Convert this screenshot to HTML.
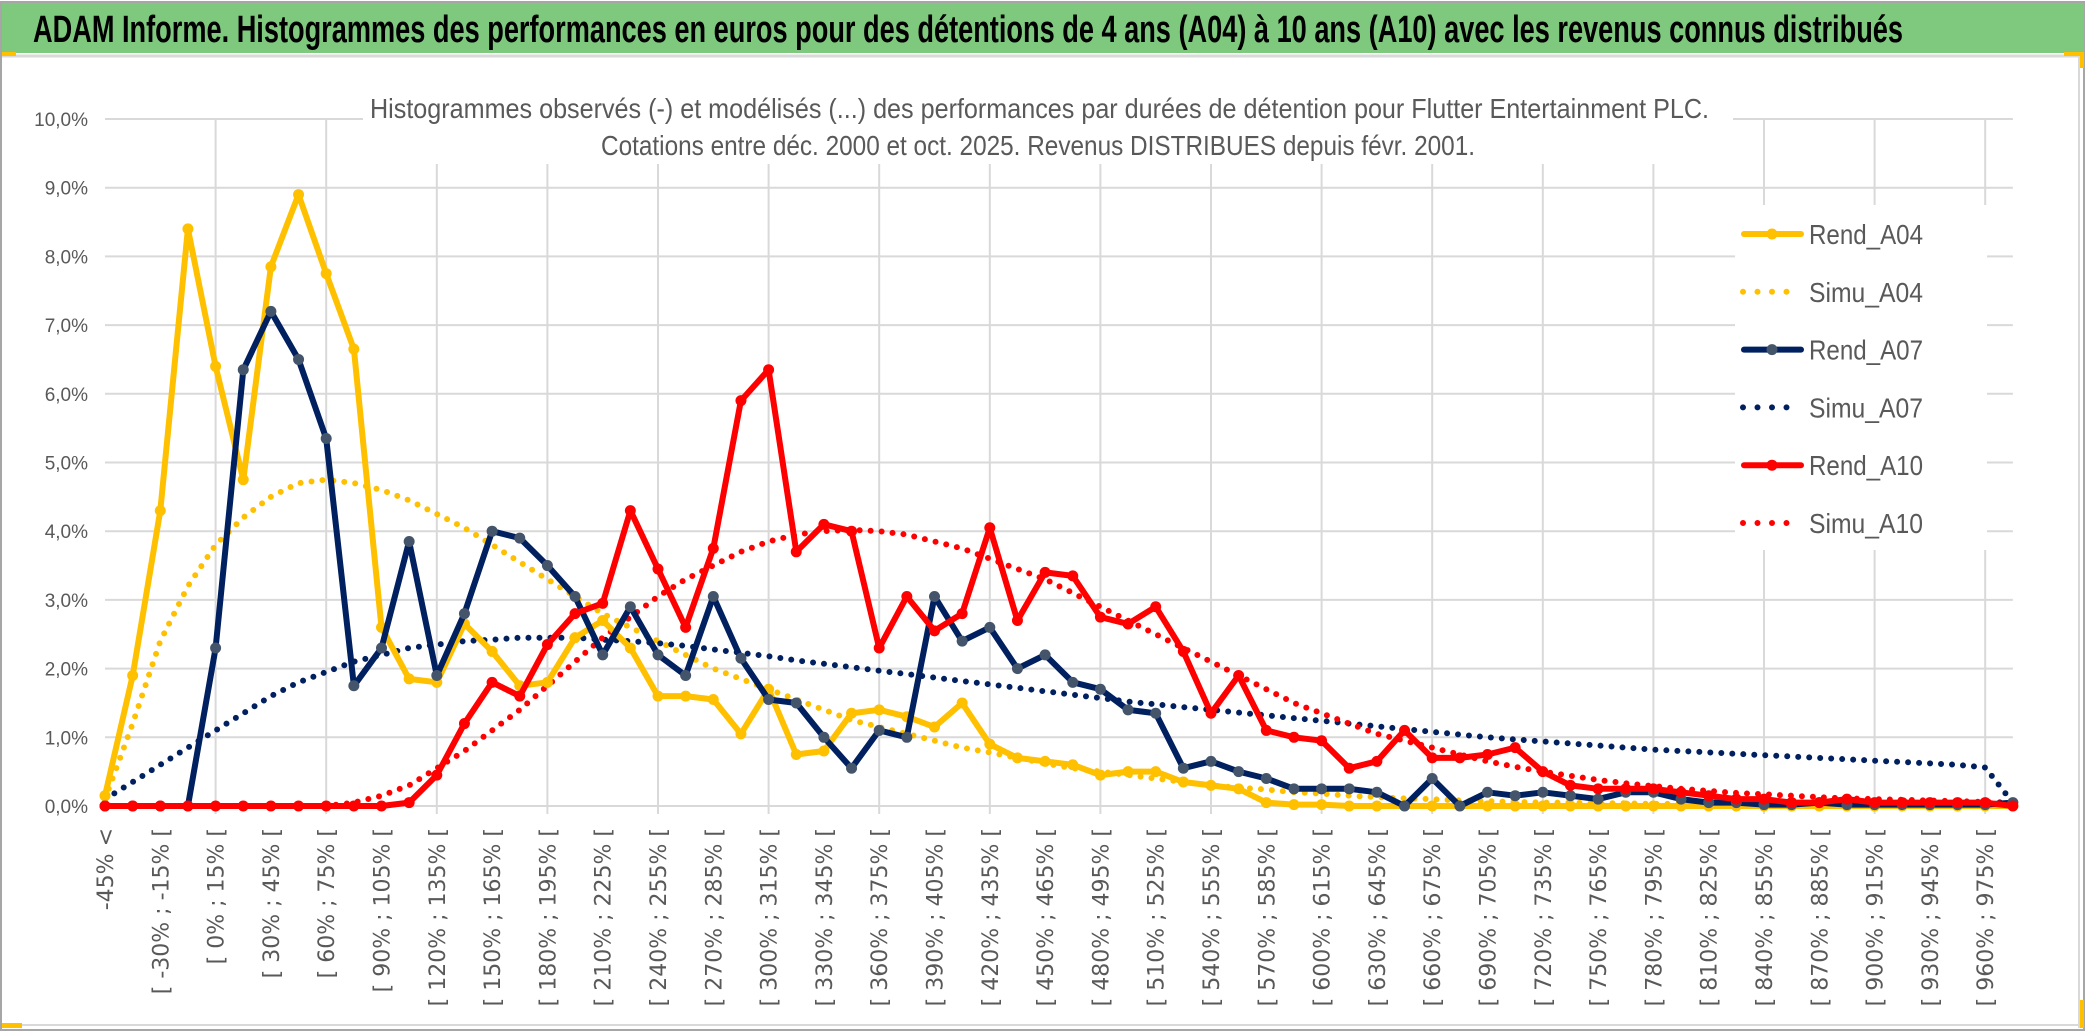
<!DOCTYPE html>
<html><head><meta charset="utf-8">
<style>
html,body{margin:0;padding:0;background:#fff;}
svg{display:block;}
</style></head>
<body>
<svg id="chart" width="2086" height="1033" viewBox="0 0 2086 1033" xmlns="http://www.w3.org/2000/svg">
  <rect x="0" y="0" width="2086" height="1033" fill="#fff"/>
  <rect x="1" y="2" width="2083" height="1028" fill="none" stroke="#a6a6a6" stroke-width="2"/>
  <rect x="2" y="3" width="2082" height="50" fill="#7fc97f"/>
  <line x1="2" y1="56" x2="2080" y2="56" stroke="#d9d9d9" stroke-width="3"/>
  <line x1="2079" y1="56" x2="2079" y2="1028" stroke="#d9d9d9" stroke-width="2"/>
  <line x1="2" y1="1025" x2="2080" y2="1025" stroke="#d9d9d9" stroke-width="2"/>
  <rect x="2" y="52" width="14" height="4" fill="#ffc000"/>
  <rect x="2064" y="52" width="18" height="4" fill="#ffc000"/>
  <rect x="2080" y="52" width="4" height="16" fill="#ffc000"/>
  <rect x="2" y="1023" width="20" height="5" fill="#ffc000"/>
  <rect x="2080" y="1000" width="4" height="28" fill="#ffc000"/>
  <text x="33" y="42" textLength="1870" lengthAdjust="spacingAndGlyphs" font-family="Liberation Sans, sans-serif" font-weight="bold" font-size="38" fill="#000">ADAM Informe. Histogrammes des performances en euros pour des détentions de 4 ans (A04) à 10 ans (A10) avec les revenus connus distribués</text>
  <g id="grid"></g>
  <rect x="363" y="78" width="1370" height="86" fill="#fff"/>
  <text x="370" y="118" textLength="1339" lengthAdjust="spacingAndGlyphs" font-family="Liberation Sans, sans-serif" font-size="28" fill="#595959">Histogrammes observés (-) et modélisés (...) des performances par durées de détention pour Flutter Entertainment PLC.</text>
  <text x="601" y="155" textLength="874" lengthAdjust="spacingAndGlyphs" font-family="Liberation Sans, sans-serif" font-size="28" fill="#595959">Cotations entre déc. 2000 et oct. 2025. Revenus DISTRIBUES depuis févr. 2001.</text>
  <g id="yaxis"></g>
  <g id="xaxis"></g>
  <g id="series"></g>
  <g id="legend"></g>
</svg>
<script>
const categories = ["-45% <"];
for (let s = -45; s < 990; s += 15) categories.push("[ " + s + "% ; " + (s + 15) + "% [");
const yTicks = [0,1,2,3,4,5,6,7,8,9,10];
const yTickLabels = ["0,0%","1,0%","2,0%","3,0%","4,0%","5,0%","6,0%","7,0%","8,0%","9,0%","10,0%"];
const seriesNames = ["Rend_A04","Simu_A04","Rend_A07","Simu_A07","Rend_A10","Simu_A10"];
const rendA04 = [0.15,1.9,4.3,8.4,6.4,4.75,7.85,8.9,7.75,6.65,2.6,1.85,1.8,2.65,2.25,1.75,1.8,2.45,2.7,2.3,1.6,1.6,1.55,1.05,1.7,0.75,0.8,1.35,1.4,1.3,1.15,1.5,0.9,0.7,0.65,0.6,0.45,0.5,0.5,0.35,0.3,0.25,0.05,0.02,0.02,0,0,0,0,0,0,0,0,0,0,0,0,0,0,0,0,0,0,0,0,0,0,0,0,0];
const simuA04 = [0.1,1.2,2.4,3.2,3.8,4.2,4.5,4.7,4.75,4.7,4.6,4.45,4.25,4.05,3.8,3.55,3.3,3.05,2.8,2.6,2.4,2.2,2.0,1.85,1.7,1.55,1.4,1.25,1.15,1.05,0.95,0.85,0.78,0.7,0.62,0.55,0.5,0.45,0.4,0.35,0.3,0.27,0.24,0.2,0.18,0.15,0.13,0.11,0.1,0.08,0.07,0.06,0.05,0.05,0.04,0.04,0.03,0.03,0.03,0.02,0.02,0.02,0.02,0.02,0.02,0.02,0.02,0.02,0.02,0.02];
const rendA07 = [0,0,0,0,2.3,6.35,7.2,6.5,5.35,1.75,2.3,3.85,1.9,2.8,4.0,3.9,3.5,3.05,2.2,2.9,2.2,1.9,3.05,2.15,1.55,1.5,1.0,0.55,1.1,1.0,3.05,2.4,2.6,2.0,2.2,1.8,1.7,1.4,1.35,0.55,0.65,0.5,0.4,0.25,0.25,0.25,0.2,0.0,0.4,0.0,0.2,0.15,0.2,0.15,0.1,0.2,0.2,0.1,0.05,0.05,0.02,0.02,0.05,0.02,0.02,0.02,0.02,0.02,0.02,0.05];
const simuA07 = [0.1,0.35,0.6,0.85,1.1,1.35,1.6,1.8,1.95,2.1,2.2,2.3,2.35,2.4,2.42,2.45,2.45,2.45,2.42,2.4,2.37,2.33,2.28,2.23,2.18,2.12,2.07,2.02,1.97,1.92,1.87,1.82,1.77,1.72,1.67,1.62,1.57,1.52,1.48,1.44,1.4,1.36,1.32,1.28,1.24,1.2,1.16,1.12,1.08,1.04,1.0,0.97,0.94,0.91,0.88,0.85,0.82,0.8,0.78,0.76,0.74,0.72,0.7,0.68,0.66,0.64,0.62,0.6,0.56,0.05];
const rendA10 = [0,0,0,0,0,0,0,0,0,0,0,0.05,0.45,1.2,1.8,1.6,2.35,2.8,2.95,4.3,3.45,2.6,3.75,5.9,6.35,3.7,4.1,4.0,2.3,3.05,2.55,2.8,4.05,2.7,3.4,3.35,2.75,2.65,2.9,2.25,1.35,1.9,1.1,1.0,0.95,0.55,0.65,1.1,0.7,0.7,0.75,0.85,0.5,0.3,0.25,0.25,0.25,0.2,0.15,0.1,0.1,0.05,0.05,0.1,0.05,0.05,0.05,0.05,0.05,0.0];
const simuA10 = [0,0,0,0,0,0,0,0,0,0.05,0.15,0.3,0.55,0.8,1.1,1.4,1.75,2.1,2.45,2.75,3.05,3.3,3.5,3.7,3.85,3.95,4.0,4.02,4.0,3.95,3.85,3.75,3.6,3.45,3.3,3.1,2.9,2.7,2.5,2.3,2.1,1.9,1.7,1.5,1.35,1.2,1.05,0.95,0.85,0.75,0.65,0.57,0.5,0.44,0.38,0.33,0.29,0.25,0.22,0.19,0.17,0.15,0.13,0.11,0.1,0.09,0.08,0.07,0.06,0.05];

const NS = "http://www.w3.org/2000/svg";
const X0 = 105, XSTEP = 27.65, Y0 = 806, YPX = 68.7;
function xScale(i){ return X0 + i * XSTEP; }
function yScale(v){ return Y0 - v * YPX; }
function mk(tag, attrs, parent){
  const e = document.createElementNS(NS, tag);
  for (const k in attrs) e.setAttribute(k, attrs[k]);
  parent.appendChild(e); return e;
}
const grid = document.getElementById('grid');
const xRight = xScale(categories.length - 1);
yTicks.forEach((t) => {
  const l = mk('line', {x1: X0, x2: xRight, y1: yScale(t), y2: yScale(t), stroke: '#d9d9d9', 'stroke-width': 2}, grid);
  
  
});
for (let i = 4; i < categories.length; i += 4) {
  const l = mk('line', {x1: xScale(i), x2: xScale(i), y1: yScale(10), y2: Y0 + 8, stroke: '#d9d9d9', 'stroke-width': 2}, grid);
  
  
}
const yaxis = document.getElementById('yaxis');
yTicks.forEach((t, k) => {
  const tx = mk('text', {x: 88, y: yScale(t) + 7, 'text-anchor': 'end', 'font-family': 'Liberation Sans, sans-serif', 'font-size': 19, fill: '#595959'}, yaxis);
  tx.textContent = yTickLabels[k];
  
  
});
const xaxis = document.getElementById('xaxis');
categories.forEach((c, i) => {
  if (i % 2 !== 0) return;
  const x = xScale(i) + 8;
  const tx = mk('text', {x: x, y: 828, transform: 'rotate(-90 ' + x + ' 828)', 'text-anchor': 'end', 'font-family': 'DejaVu Sans, sans-serif', 'font-size': 22, fill: '#595959'}, xaxis);
  tx.textContent = c;
  
  
});
const series = document.getElementById('series');
function pts(arr){ return arr.map((v, i) => xScale(i).toFixed(1) + ',' + yScale(v).toFixed(1)).join(' '); }
function dotted(arr, color, name){
  const p = mk('polyline', {points: pts(arr), fill: 'none', stroke: color, 'stroke-width': 6, 'stroke-linecap': 'round', 'stroke-dasharray': '0 11'}, series);
  
  
}
function solid(arr, color, mcolor, name){
  const p = mk('polyline', {points: pts(arr), fill: 'none', stroke: color, 'stroke-width': 6, 'stroke-linejoin': 'round'}, series);
  
  
  arr.forEach((v, i) => {
    const c = mk('circle', {cx: xScale(i), cy: yScale(v), r: 5.5, fill: mcolor}, series);
    
    
  });
}
dotted(simuA04, '#ffc000', 'simu-a04-line');
dotted(simuA07, '#002060', 'simu-a07-line');
dotted(simuA10, '#ff0000', 'simu-a10-line');
solid(rendA04, '#ffc000', '#ffc000', 'rend-a04-line');
solid(rendA07, '#002060', '#44546a', 'rend-a07-line');
solid(rendA10, '#ff0000', '#ff0000', 'rend-a10-line');

const legend = document.getElementById('legend');
const lbg = mk('rect', {x: 1735, y: 205, width: 252, height: 345, fill: '#fff'}, legend);


const legColors = ['#ffc000','#ffc000','#002060','#002060','#ff0000','#ff0000'];
const legMarker = ['#ffc000',null,'#44546a',null,'#ff0000',null];
seriesNames.forEach((n, k) => {
  const y = 234 + k * 57.8;
  const g = mk('g', {}, legend);
  
  
  if (legMarker[k]) {
    mk('line', {x1: 1744, x2: 1801, y1: y, y2: y, stroke: legColors[k], 'stroke-width': 6, 'stroke-linecap': 'round'}, g);
    mk('circle', {cx: 1772, cy: y, r: 5.5, fill: legMarker[k]}, g);
  } else {
    mk('line', {x1: 1743, x2: 1801, y1: y, y2: y, stroke: legColors[k], 'stroke-width': 6, 'stroke-linecap': 'round', 'stroke-dasharray': '0 14.5'}, g);
  }
  const t = mk('text', {x: 1809, y: y + 10, textLength: 114, lengthAdjust: 'spacingAndGlyphs', 'font-family': 'Liberation Sans, sans-serif', 'font-size': 28, fill: '#595959'}, g);
  t.textContent = n;
});
</script>
</body></html>
